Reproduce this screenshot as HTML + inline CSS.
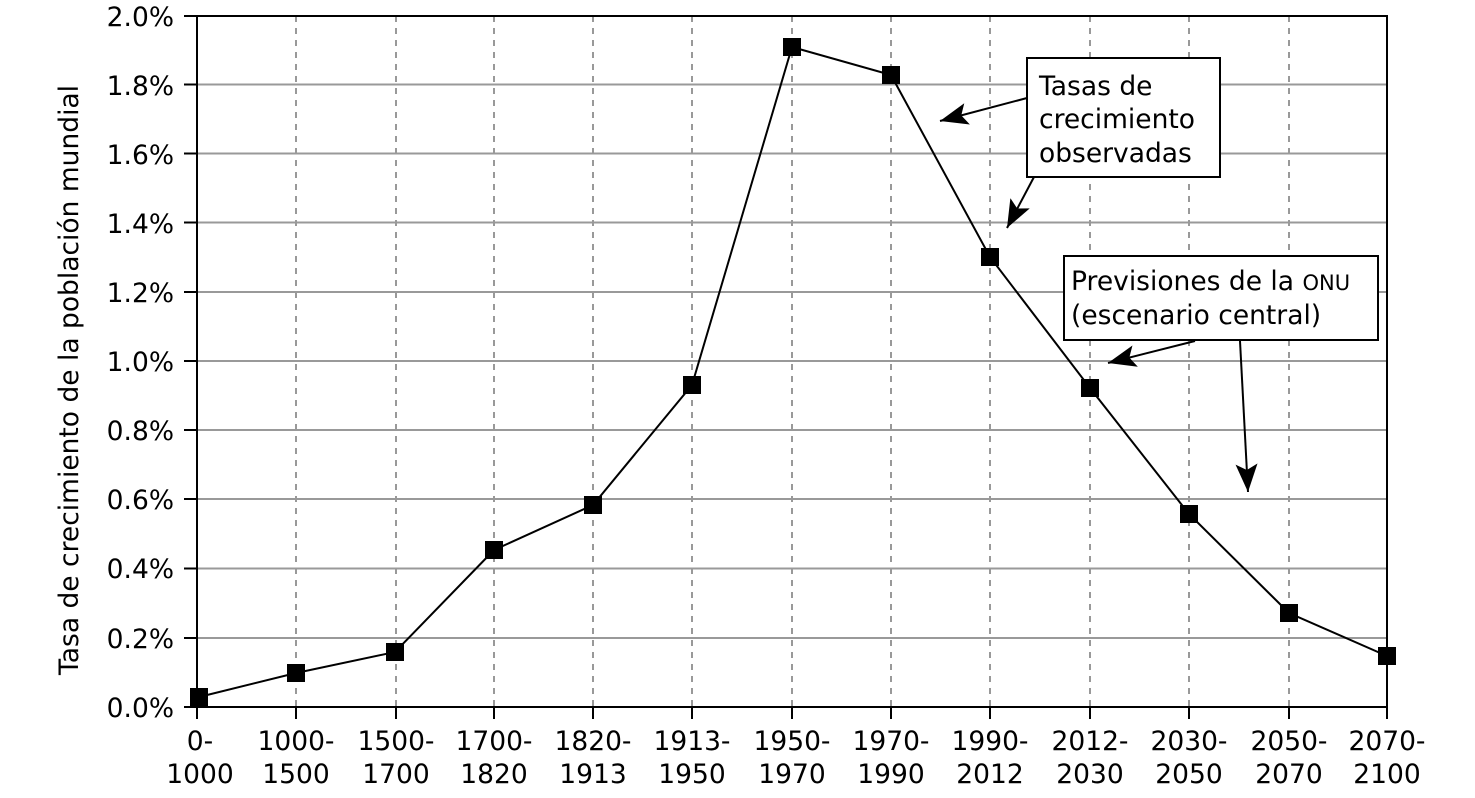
<!DOCTYPE html>
<html><head><meta charset="utf-8"><style>
html,body{margin:0;padding:0;background:#fff;}
svg text{font-family:"DejaVu Sans","Liberation Sans",sans-serif;font-size:26.5px;fill:#000;}
</style></head><body>
<svg width="1475" height="793" viewBox="0 0 1475 793" xmlns="http://www.w3.org/2000/svg">
<defs>
<marker id="ah2" markerWidth="28" markerHeight="22" refX="28" refY="11" orient="auto" markerUnits="userSpaceOnUse" viewBox="0 0 28 22"><path d="M0,0 L28,11 L0,22 L6,11 Z" fill="#000"/></marker></defs>
<g stroke="#999" stroke-width="2">
<line x1="197" y1="84.5" x2="1387" y2="84.5"/><line x1="197" y1="153.5" x2="1387" y2="153.5"/><line x1="197" y1="222.5" x2="1387" y2="222.5"/><line x1="197" y1="292" x2="1387" y2="292"/><line x1="197" y1="361" x2="1387" y2="361"/><line x1="197" y1="430" x2="1387" y2="430"/><line x1="197" y1="499" x2="1387" y2="499"/><line x1="197" y1="568.5" x2="1387" y2="568.5"/><line x1="197" y1="638" x2="1387" y2="638"/>
</g>
<g stroke="#999" stroke-width="2" stroke-dasharray="6,6">
<line x1="296" y1="16" x2="296" y2="707"/><line x1="396" y1="16" x2="396" y2="707"/><line x1="494" y1="16" x2="494" y2="707"/><line x1="593" y1="16" x2="593" y2="707"/><line x1="692" y1="16" x2="692" y2="707"/><line x1="792" y1="16" x2="792" y2="707"/><line x1="891" y1="16" x2="891" y2="707"/><line x1="990" y1="16" x2="990" y2="707"/><line x1="1090" y1="16" x2="1090" y2="707"/><line x1="1189" y1="16" x2="1189" y2="707"/><line x1="1289" y1="16" x2="1289" y2="707"/>
</g>
<rect x="197" y="16" width="1190" height="691" fill="none" stroke="#000" stroke-width="2"/>
<g stroke="#000" stroke-width="2">
<line x1="184" y1="16" x2="197" y2="16"/><line x1="184" y1="84.5" x2="197" y2="84.5"/><line x1="184" y1="153.5" x2="197" y2="153.5"/><line x1="184" y1="222.5" x2="197" y2="222.5"/><line x1="184" y1="292" x2="197" y2="292"/><line x1="184" y1="361" x2="197" y2="361"/><line x1="184" y1="430" x2="197" y2="430"/><line x1="184" y1="499" x2="197" y2="499"/><line x1="184" y1="568.5" x2="197" y2="568.5"/><line x1="184" y1="638" x2="197" y2="638"/><line x1="184" y1="707" x2="197" y2="707"/>
<line x1="197" y1="707" x2="197" y2="719"/><line x1="296" y1="707" x2="296" y2="719"/><line x1="396" y1="707" x2="396" y2="719"/><line x1="494" y1="707" x2="494" y2="719"/><line x1="593" y1="707" x2="593" y2="719"/><line x1="692" y1="707" x2="692" y2="719"/><line x1="792" y1="707" x2="792" y2="719"/><line x1="891" y1="707" x2="891" y2="719"/><line x1="990" y1="707" x2="990" y2="719"/><line x1="1090" y1="707" x2="1090" y2="719"/><line x1="1189" y1="707" x2="1189" y2="719"/><line x1="1289" y1="707" x2="1289" y2="719"/><line x1="1387" y1="707" x2="1387" y2="719"/>
</g>
<g text-anchor="end">
<text x="174" y="26">2.0%</text><text x="174" y="95">1.8%</text><text x="174" y="164">1.6%</text><text x="174" y="233">1.4%</text><text x="174" y="302">1.2%</text><text x="174" y="371">1.0%</text><text x="174" y="440">0.8%</text><text x="174" y="509">0.6%</text><text x="174" y="578">0.4%</text><text x="174" y="648">0.2%</text><text x="174" y="717">0.0%</text>
</g>
<g text-anchor="middle">
<text x="200" y="750">0-</text><text x="200" y="783">1000</text>
<text x="296" y="750">1000-</text><text x="296" y="783">1500</text>
<text x="396" y="750">1500-</text><text x="396" y="783">1700</text>
<text x="494" y="750">1700-</text><text x="494" y="783">1820</text>
<text x="593" y="750">1820-</text><text x="593" y="783">1913</text>
<text x="692" y="750">1913-</text><text x="692" y="783">1950</text>
<text x="792" y="750">1950-</text><text x="792" y="783">1970</text>
<text x="891" y="750">1970-</text><text x="891" y="783">1990</text>
<text x="990" y="750">1990-</text><text x="990" y="783">2012</text>
<text x="1090" y="750">2012-</text><text x="1090" y="783">2030</text>
<text x="1189" y="750">2030-</text><text x="1189" y="783">2050</text>
<text x="1289" y="750">2050-</text><text x="1289" y="783">2070</text>
<text x="1387" y="750">2070-</text><text x="1387" y="783">2100</text>
</g>
<text transform="translate(78,380) rotate(-90)" text-anchor="middle">Tasa de crecimiento de la población mundial</text>
<polyline fill="none" stroke="#000" stroke-width="2" points="199,697 296,673 395,652 494,550 593,505 692,385 792,47 891,75 990,257 1090,388 1189,514 1289,613 1387,656"/>
<g fill="#000">
<rect x="190" y="688" width="18" height="18"/><rect x="287" y="664" width="18" height="18"/><rect x="386" y="643" width="18" height="18"/><rect x="485" y="541" width="18" height="18"/><rect x="584" y="496" width="18" height="18"/><rect x="683" y="376" width="18" height="18"/><rect x="783" y="38" width="18" height="18"/><rect x="882" y="66" width="18" height="18"/><rect x="981" y="248" width="18" height="18"/><rect x="1081" y="379" width="18" height="18"/><rect x="1180" y="505" width="18" height="18"/><rect x="1280" y="604" width="18" height="18"/><rect x="1378" y="647" width="18" height="18"/>
</g>
<rect x="1027" y="58" width="193" height="119" fill="#fff" stroke="#000" stroke-width="2"/>
<text x="1039" y="95">Tasas de</text><text x="1039" y="128">crecimiento</text><text x="1039" y="162">observadas</text>
<rect x="1064" y="256" width="314" height="84" fill="#fff" stroke="#000" stroke-width="2"/>
<text x="1071" y="290">Previsiones de la <tspan font-size="21">ONU</tspan></text><text x="1071" y="324">(escenario central)</text>
<g stroke="#000" stroke-width="2" fill="none">
<line x1="1027" y1="98" x2="940" y2="121" marker-end="url(#ah2)"/>
<line x1="1034" y1="177" x2="1007" y2="228" marker-end="url(#ah2)"/>
<line x1="1195" y1="341" x2="1108" y2="363" marker-end="url(#ah2)"/>
<line x1="1240" y1="341" x2="1248" y2="492" marker-end="url(#ah2)"/>
</g>
</svg>
</body></html>
